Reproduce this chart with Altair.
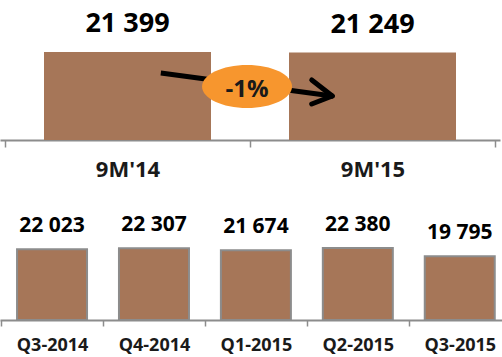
import json
import altair as alt
import pandas as pd

# ---- data -------------------------------------------------------------
period_labels = ["9M'14", "9M'15"]
period_values = [21399, 21249]

quarter_labels = ["Q3-2014", "Q4-2014", "Q1-2015", "Q2-2015", "Q3-2015"]
quarter_values = [22023, 22307, 21674, 22380, 19795]

change_label = "-1%"

# annotation geometry, in data units (x = category index, y = value units)
shaft_x = [0.136]
shaft_y = [16292]
shaft_x2 = [0.836]
shaft_y2 = [10700]
head_x = [0.752, 0.752]
head_y = [14590, 8754]
head_x2 = [0.836, 0.836]
head_y2 = [10700, 10700]
badge_x = [0.488]
badge_y = [13010]
badge_text_y = [12160]

# ---- styles -----------------------------------------------------------
FONT = "Open Sans"
BROWN = "#A67658"
GREY = "#8C8C8C"
ORANGE = "#F7962E"
ELLIPSE = "M -1 0 A 1 0.478 0 1 0 1 0 A 1 0.478 0 1 0 -1 0 Z"


def fmt(v):
    return f"{v:,}".replace(",", " ")


def make_axis(labels, n, size, padding, tick_size):
    vals = [i * 0.5 - 0.5 for i in range(2 * n + 1)]
    return alt.Axis(
        values=vals,
        labelExpr=f"datum.value % 1 === 0 ? {json.dumps(labels)}[datum.value] : ''",
        labelOverlap=False,
        labelFlush=False,
        grid=False,
        title=None,
        domainColor=GREY,
        domainWidth=2,
        tickColor=GREY,
        tickWidth=1.5,
        tickSize=tick_size,
        tickOpacity={"condition": {"test": "datum.value % 1 === 0", "value": 0}, "value": 1},
        labelFont=FONT,
        labelFontSize=size,
        labelFontWeight="bold",
        labelColor="#1a1a1a",
        labelPadding=padding,
    )


top_df = pd.DataFrame({
    "idx": list(range(len(period_labels))),
    "label": period_labels,
    "value": period_values,
    "txt": [fmt(v) for v in period_values],
})
bot_df = pd.DataFrame({
    "idx": list(range(len(quarter_labels))),
    "label": quarter_labels,
    "value": quarter_values,
    "txt": [fmt(v) for v in quarter_values],
})

# ---- top panel --------------------------------------------------------
xs_top = alt.Scale(domain=[-0.5, 1.5], nice=False, zero=False)
ys_top = alt.Scale(domain=[0, 34044], nice=False)

top_bars = alt.Chart(top_df).mark_bar(size=167, color=BROWN, orient="vertical").encode(
    x=alt.X("idx:Q", scale=xs_top, axis=make_axis(period_labels, 2, 22, 12, 7)),
    y=alt.Y("value:Q", scale=ys_top, axis=None),
)
top_text = alt.Chart(top_df).mark_text(
    font=FONT, fontSize=27, fontWeight="bold", dy=-20, baseline="alphabetic", color="black"
).encode(x="idx:Q", y="value:Q", text="txt:N")

shaft_df = pd.DataFrame({"x": shaft_x, "y": shaft_y, "x2": shaft_x2, "y2": shaft_y2})
head_df = pd.DataFrame({"x": head_x, "y": head_y, "x2": head_x2, "y2": head_y2})
badge_df = pd.DataFrame({"x": badge_x, "y": badge_y, "ty": badge_text_y, "t": [change_label]})

shaft = alt.Chart(shaft_df).mark_rule(strokeWidth=5, color="black").encode(
    x="x:Q", y="y:Q", x2="x2:Q", y2="y2:Q"
)
head = alt.Chart(head_df).mark_rule(strokeWidth=5, color="black", strokeCap="round").encode(
    x="x:Q", y="y:Q", x2="x2:Q", y2="y2:Q"
)
badge = alt.Chart(badge_df).mark_point(
    shape=ELLIPSE, size=8100, filled=True, color=ORANGE, opacity=1, strokeWidth=0
).encode(x="x:Q", y="y:Q")
badge_text = alt.Chart(badge_df).mark_text(
    font=FONT, fontSize=24, fontWeight="bold", color="#1a1a1a", baseline="middle", align="center"
).encode(x="x:Q", y="ty:Q", text="t:N")

top = alt.layer(top_bars, top_text, shaft, badge, badge_text, head).properties(width=500, height=140)

# ---- bottom panel -----------------------------------------------------
xs_bot = alt.Scale(domain=[-0.4615, 4.3654], nice=False, zero=False)
ys_bot = alt.Scale(domain=[0, 37300], nice=False)

bot_bars = alt.Chart(bot_df).mark_bar(
    size=70, color=BROWN, stroke=GREY, strokeWidth=2, orient="vertical"
).encode(
    x=alt.X("idx:Q", scale=xs_bot, axis=make_axis(quarter_labels, 5, 18, 10, 6)),
    y=alt.Y("value:Q", scale=ys_bot, axis=None),
)
bot_text = alt.Chart(bot_df).mark_text(
    font=FONT, fontSize=21, fontWeight="bold", dy=-17, baseline="alphabetic", color="black"
).encode(x="idx:Q", y="value:Q", text="txt:N")

bottom = alt.layer(bot_bars, bot_text).properties(width=502, height=120)

chart = (
    alt.vconcat(top, bottom, spacing=60, bounds="flush")
    .properties(padding=0, background="white")
    .configure_view(stroke=None)
)

chart.save("out.html", embed_options={"renderer": "svg", "actions": False})
